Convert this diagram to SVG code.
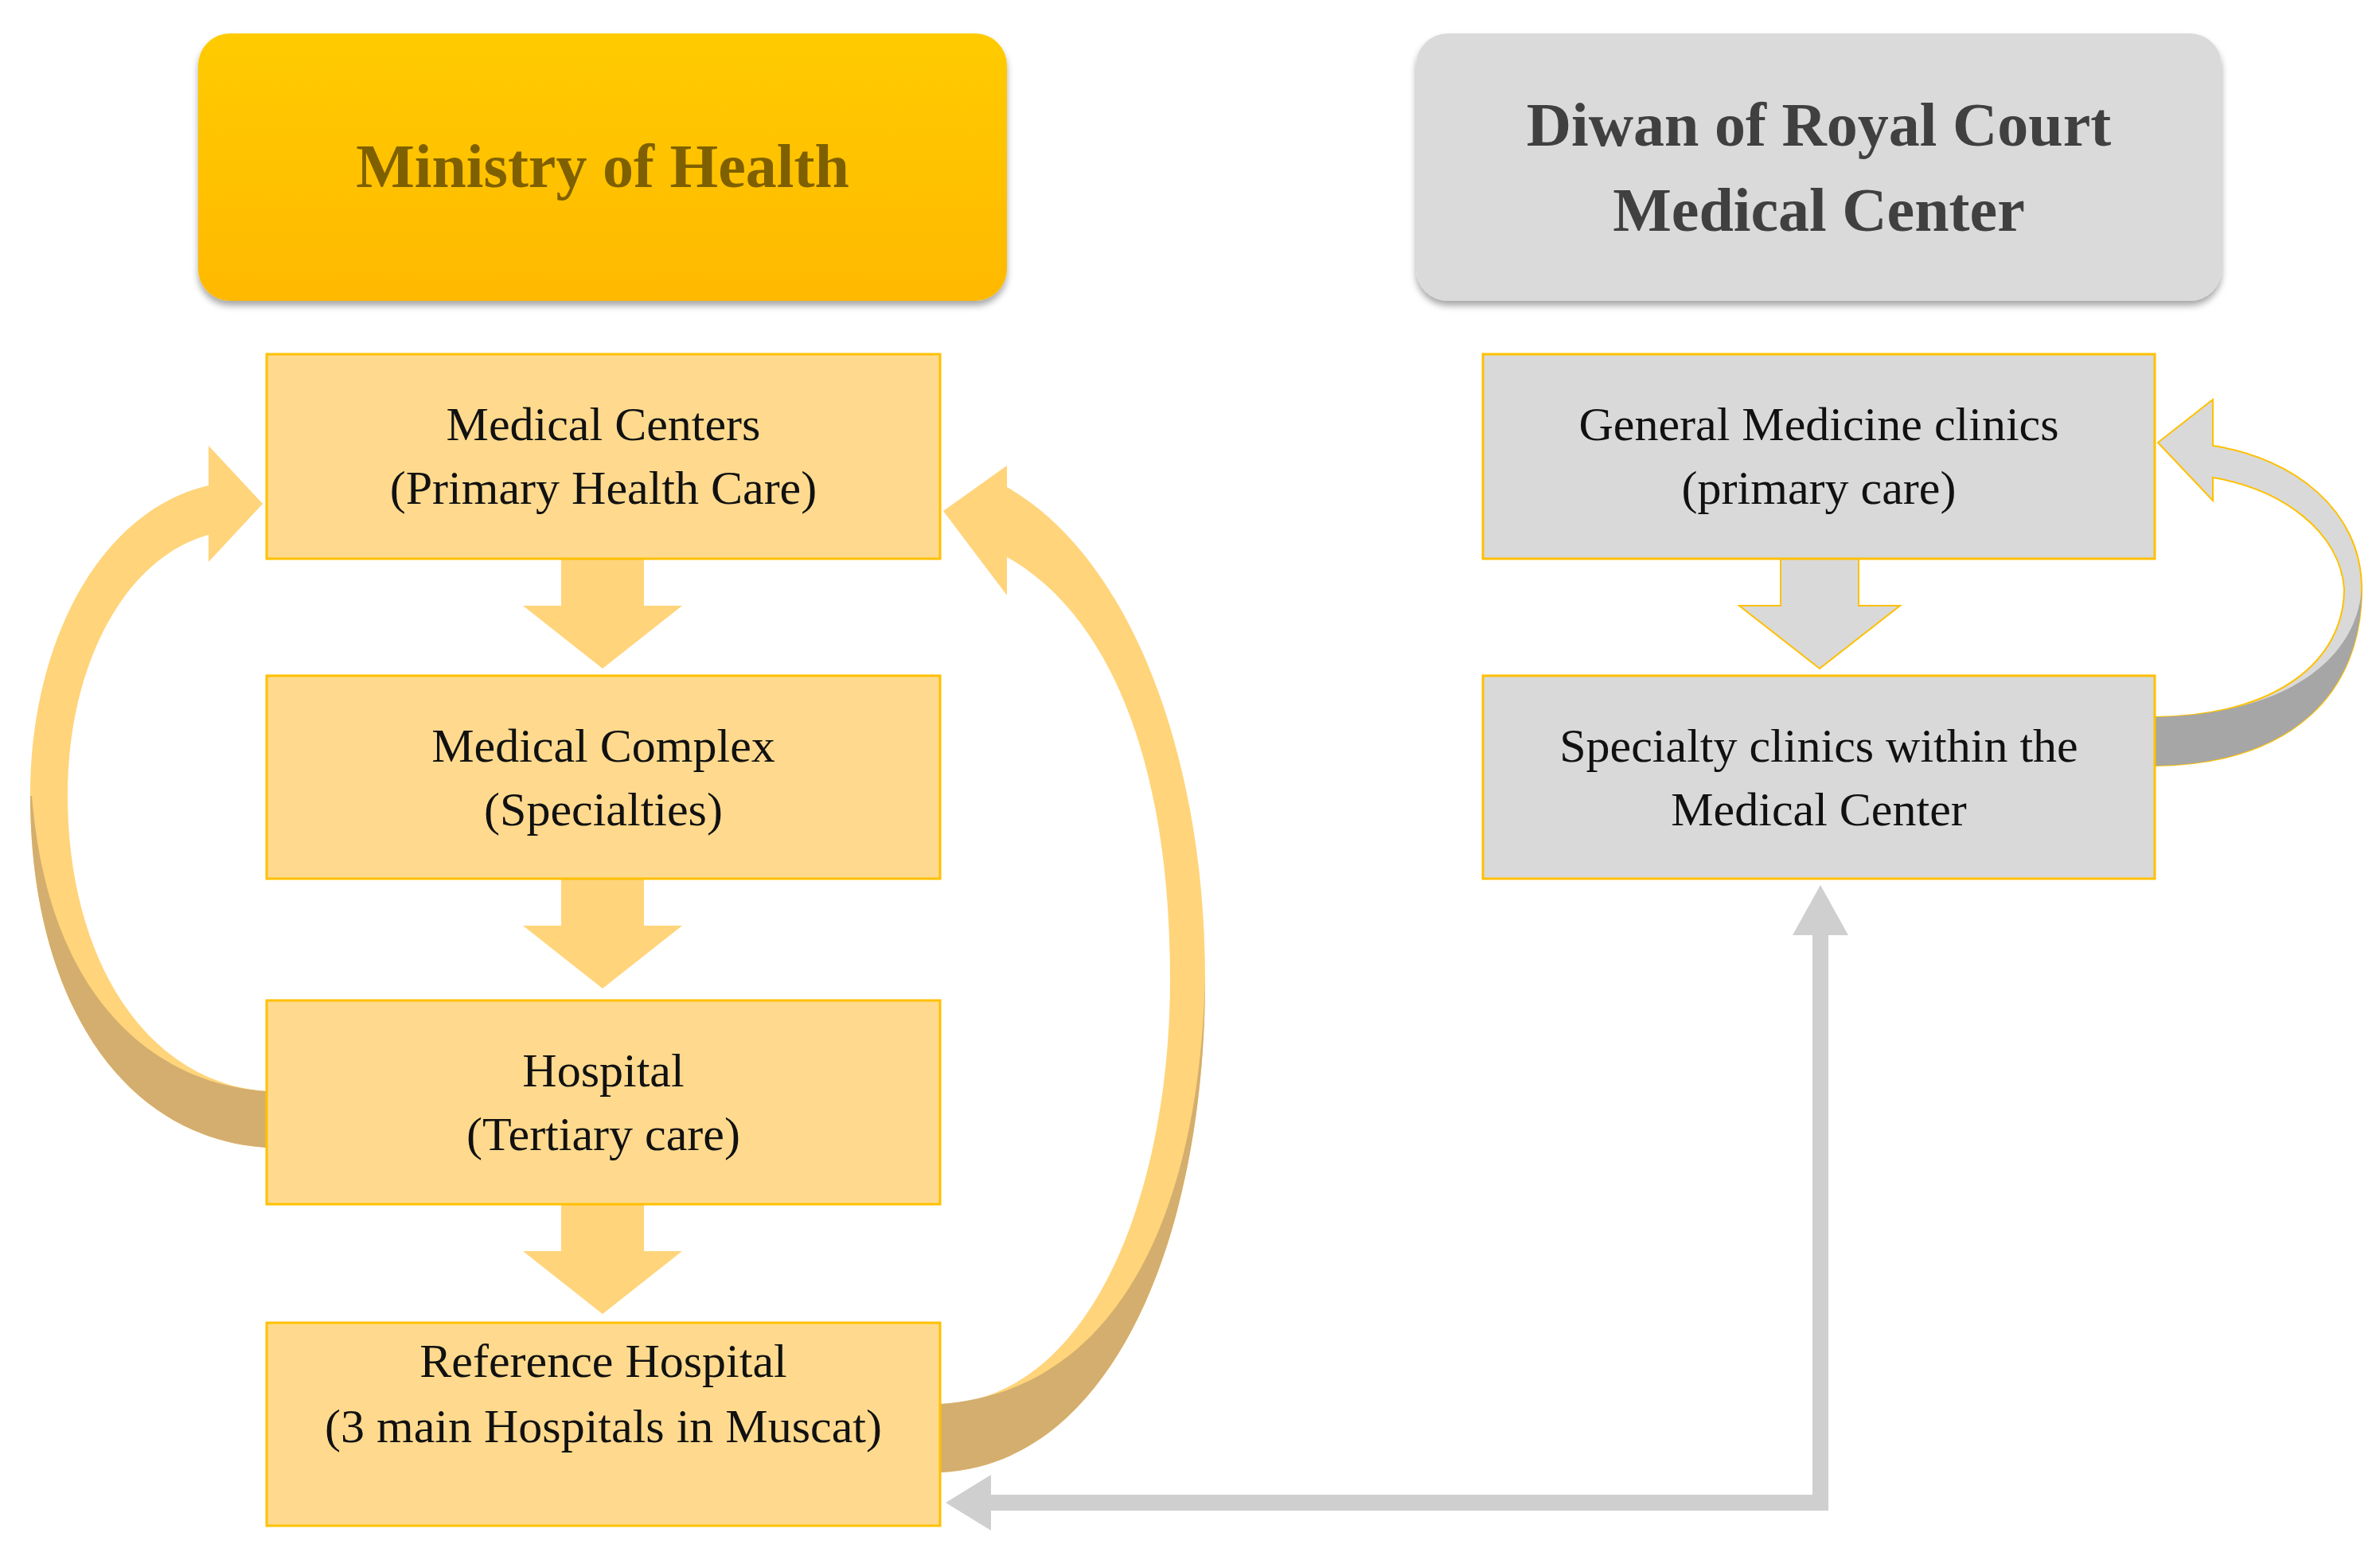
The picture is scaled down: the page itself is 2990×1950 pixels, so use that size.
<svg xmlns="http://www.w3.org/2000/svg" width="2990" height="1950" viewBox="0 0 2990 1950">
<defs>
<linearGradient id="gy" x1="0" y1="0" x2="0" y2="1"><stop offset="0" stop-color="#FFCB05"/><stop offset="1" stop-color="#FFB900"/></linearGradient>
<filter id="sh" x="-5%" y="-10%" width="110%" height="125%"><feDropShadow dx="0" dy="6" stdDeviation="4" flood-color="#000" flood-opacity="0.35"/></filter>
<style>
.bx{fill:#FFDA8E;stroke:#FFC000;stroke-width:3}
.gb{fill:#D9D9D9;stroke:#FFC000;stroke-width:3}
.t{font-family:"Liberation Serif",serif;font-size:60px;fill:#111;text-anchor:middle}
.h{font-family:"Liberation Serif",serif;font-size:78px;font-weight:bold;text-anchor:middle}
.ya{fill:#FFD47A}
.yd{fill:#D4AE6E}
.ga{fill:#D9D9D9;stroke:#FFC000;stroke-width:2}
</style>
</defs>
<rect width="2990" height="1950" fill="#fff"/>
<g id="connectors">
<g class="ya">
<polygon points="705,702 809,702 809,761 857,761 757,840 657,761 705,761"/>
<polygon points="705,1104 809,1104 809,1163 857,1163 757,1242 657,1163 705,1163"/>
<polygon points="705,1513 809,1513 809,1572 857,1572 757,1651 657,1572 705,1572"/>
</g>
<polygon points="2237,702 2335,702 2335,761 2387,761 2286,840 2185,761 2237,761" fill="#D9D9D9" stroke="#FFC000" stroke-width="2"/>
<path class="ya" d="M335 1442 C150 1430 38 1250 38 1000 C38 800 130 640 262 610 L262 560 L330 633 L262 706 L262 672 C160 700 85 830 85 1000 C85 1200 180 1360 335 1371 Z"/>
<path class="yd" d="M38 1000 C38 1250 150 1430 335 1442 L335 1371 C190 1362 60 1250 40 1000 Z"/>
<path class="ya" d="M1181 1850 C1400 1840 1514 1550 1514 1230 C1514 950 1420 700 1265 612 L1265 585 L1185 642 L1265 748 L1265 700 C1390 770 1470 950 1470 1230 C1470 1500 1370 1760 1181 1764 Z"/>
<path class="yd" d="M1514 1230 C1514 1550 1400 1840 1181 1850 L1181 1764 C1390 1750 1505 1550 1514 1230 Z"/>
<path class="ga" d="M2707 962 C2880 960 2967 870 2967 740 C2967 640 2880 575 2780 560 L2780 502 L2711 556 L2780 629 L2780 600 C2870 615 2940 670 2945 740 C2945 830 2860 900 2707 901 Z"/>
<path d="M2967 740 C2967 870 2880 960 2707 962 L2707 901 C2870 898 2960 830 2967 740 Z" fill="#A6A6A6"/>
<polyline points="2287,1170 2287,1888 1235,1888" fill="none" stroke="#CFCFCF" stroke-width="20"/>
<polygon points="2287,1112 2322,1175 2252,1175" fill="#CFCFCF"/>
<polygon points="1188,1888 1245,1853 1245,1923" fill="#CFCFCF"/>
</g>
<g id="moh"><rect x="249" y="42" width="1016" height="336" rx="40" fill="url(#gy)" filter="url(#sh)"/><text class="h" x="757" y="235" fill="#7F6000">Ministry of Health</text></g>
<g id="diwan"><rect x="1779" y="42" width="1012" height="336" rx="40" fill="#DADADA" filter="url(#sh)"/><text class="h" x="2285" y="183" fill="#404040">Diwan of Royal Court</text><text class="h" x="2285" y="290" fill="#404040">Medical Center</text></g>
<g id="mc"><rect class="bx" x="335" y="445" width="846" height="257"/><text class="t" x="758" y="553">Medical Centers</text><text class="t" x="758" y="633">(Primary Health Care)</text></g>
<g id="mx"><rect class="bx" x="335" y="849" width="846" height="255"/><text class="t" x="758" y="957">Medical Complex</text><text class="t" x="758" y="1037">(Specialties)</text></g>
<g id="hosp"><rect class="bx" x="335" y="1257" width="846" height="256"/><text class="t" x="758" y="1365">Hospital</text><text class="t" x="758" y="1445">(Tertiary care)</text></g>
<g id="ref"><rect class="bx" x="335" y="1662" width="846" height="255"/><text class="t" x="758" y="1730">Reference Hospital</text><text class="t" x="758" y="1812">(3 main Hospitals in Muscat)</text></g>
<g id="gm"><rect class="gb" x="1863" y="445" width="844" height="257"/><text class="t" x="2285" y="553">General Medicine clinics</text><text class="t" x="2285" y="633">(primary care)</text></g>
<g id="sc"><rect class="gb" x="1863" y="849" width="844" height="255"/><text class="t" x="2285" y="957">Specialty clinics within the</text><text class="t" x="2285" y="1037">Medical Center</text></g>
</svg>
